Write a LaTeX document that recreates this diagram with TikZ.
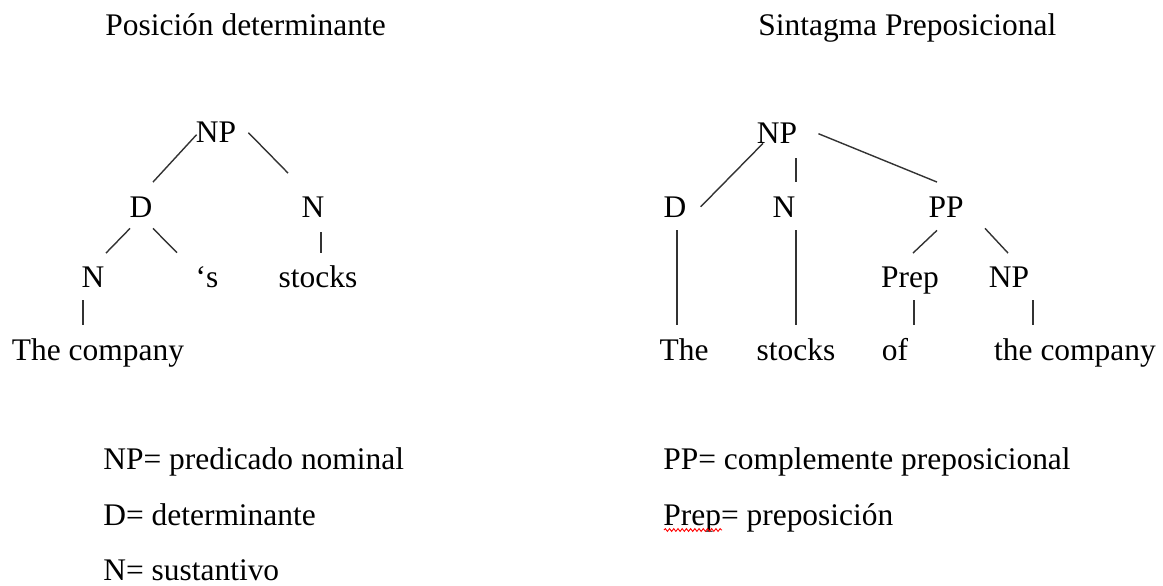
\documentclass[tikz,border=0pt]{standalone}
\usepackage{fontspec}
\setmainfont{Liberation Serif}
\usetikzlibrary{calc,decorations.pathmorphing}

\tikzset{
  word/.style={font=\fontsize{17.9pt}{21pt}\selectfont, inner sep=0pt, anchor=base},
  note/.style={word, anchor=base west},
  branch/.style={line width=0.8pt, black!80},
  spell/.style={red, line width=0.5pt, decorate,
    decoration={snake, amplitude=0.8pt, segment length=2.4pt}}
}

\begin{document}
\begin{tikzpicture}[x=0.02cm, y=-0.02cm]
            \useasboundingbox (0,0) rectangle (1163,585);

            % Titles of the two trees
            \node[note] (titleA) at (105,35) {Posición determinante};
            \node[note] (titleB) at (758,35) {Sintagma Preposicional};

            % Left tree
            \node[word] (npA) at (216,142) {NP};
            \node[word] (dA) at (141,217) {D};
            \node[word] (nA) at (313,217) {N};
            \node[word] (nB) at (93,287) {N};
            \node[word] (sA) at (207,287) {‘s};
            \node[word] (stA) at (318,287) {stocks};
            \node[word] (coA) at (98,360) {The company};

            % Branches of the left tree
            \draw[branch] ($(dA.north)+(12,-14)$) -- ($(npA.west)+(1,3)$);
            \draw[branch] ($(npA.east)+(12,1)$) -- ($(nA.north)+(-25,-23)$);
            \draw[branch] ($(dA.south)+(-11,11)$) -- ($(nB.north)+(13,-13)$);
            \draw[branch] ($(dA.south)+(12,11)$) -- ($(sA.north)+(-30,-13)$);
            \draw[branch] ($(nA.south)+(8,15)$) -- ($(stA.north)+(3,-12)$);
            \draw[branch] ($(nB.south)+(-10,13)$) -- ($(coA.north)+(-15,-13)$);

            % Right tree
            \node[word] (npB) at (777,143) {NP};
            \node[word] (dB) at (675,217) {D};
            \node[word] (nC) at (784,217) {N};
            \node[word] (ppB) at (946,217) {PP};
            \node[word] (prB) at (910,287) {Prep};
            \node[word] (npC) at (1009,287) {NP};
            \node[word] (thB) at (684,360) {The};
            \node[word] (stB) at (796,360) {stocks};
            \node[word] (ofB) at (895,360) {of};
            \node[word] (coB) at (1075,360) {the company};

            % Branches of the right tree
            \draw[branch] ($(dB.east)+(14,0)$) -- ($(npB.south)+(-14,0)$);
            \draw[branch] ($(npB.south)+(19,15)$) -- ($(nC.north)+(12,-14)$);
            \draw[branch] ($(npB.east)+(21,1)$) -- ($(ppB.north)+(-9,-14)$);
            \draw[branch] ($(dB.south)+(2,13)$) -- ($(thB.north)+(-7,-13)$);
            \draw[branch] ($(nC.south)+(12,13)$) -- ($(stB.north)+(0,-13)$);
            \draw[branch] ($(ppB.south)+(-9,13)$) -- ($(prB.north)+(3,-13)$);
            \draw[branch] ($(ppB.south)+(39,11)$) -- ($(npC.north)+(-1,-13)$);
            \draw[branch] ($(prB.south)+(4,6)$) -- ($(ofB.north)+(19,-13)$);
            \draw[branch] ($(npC.south)+(24,13)$) -- ($(coB.north)+(-42,-13)$);

            % Legend
            \node[note] (lgNP) at (103,469) {NP= predicado nominal};
            \node[note] (lgD) at (103,525) {D= determinante};
            \node[note] (lgN) at (103,580) {N= sustantivo};
            \node[note] (lgPP) at (663,469) {PP= complemente preposicional};
            \node[note] (lgPrep) at (663,525) {Prep= preposición};

            % Spell check mark under Prep
            \draw[spell] ($(lgPrep.base west)+(1,5)$) -- ++(58,0);
\end{tikzpicture}
\end{document}
